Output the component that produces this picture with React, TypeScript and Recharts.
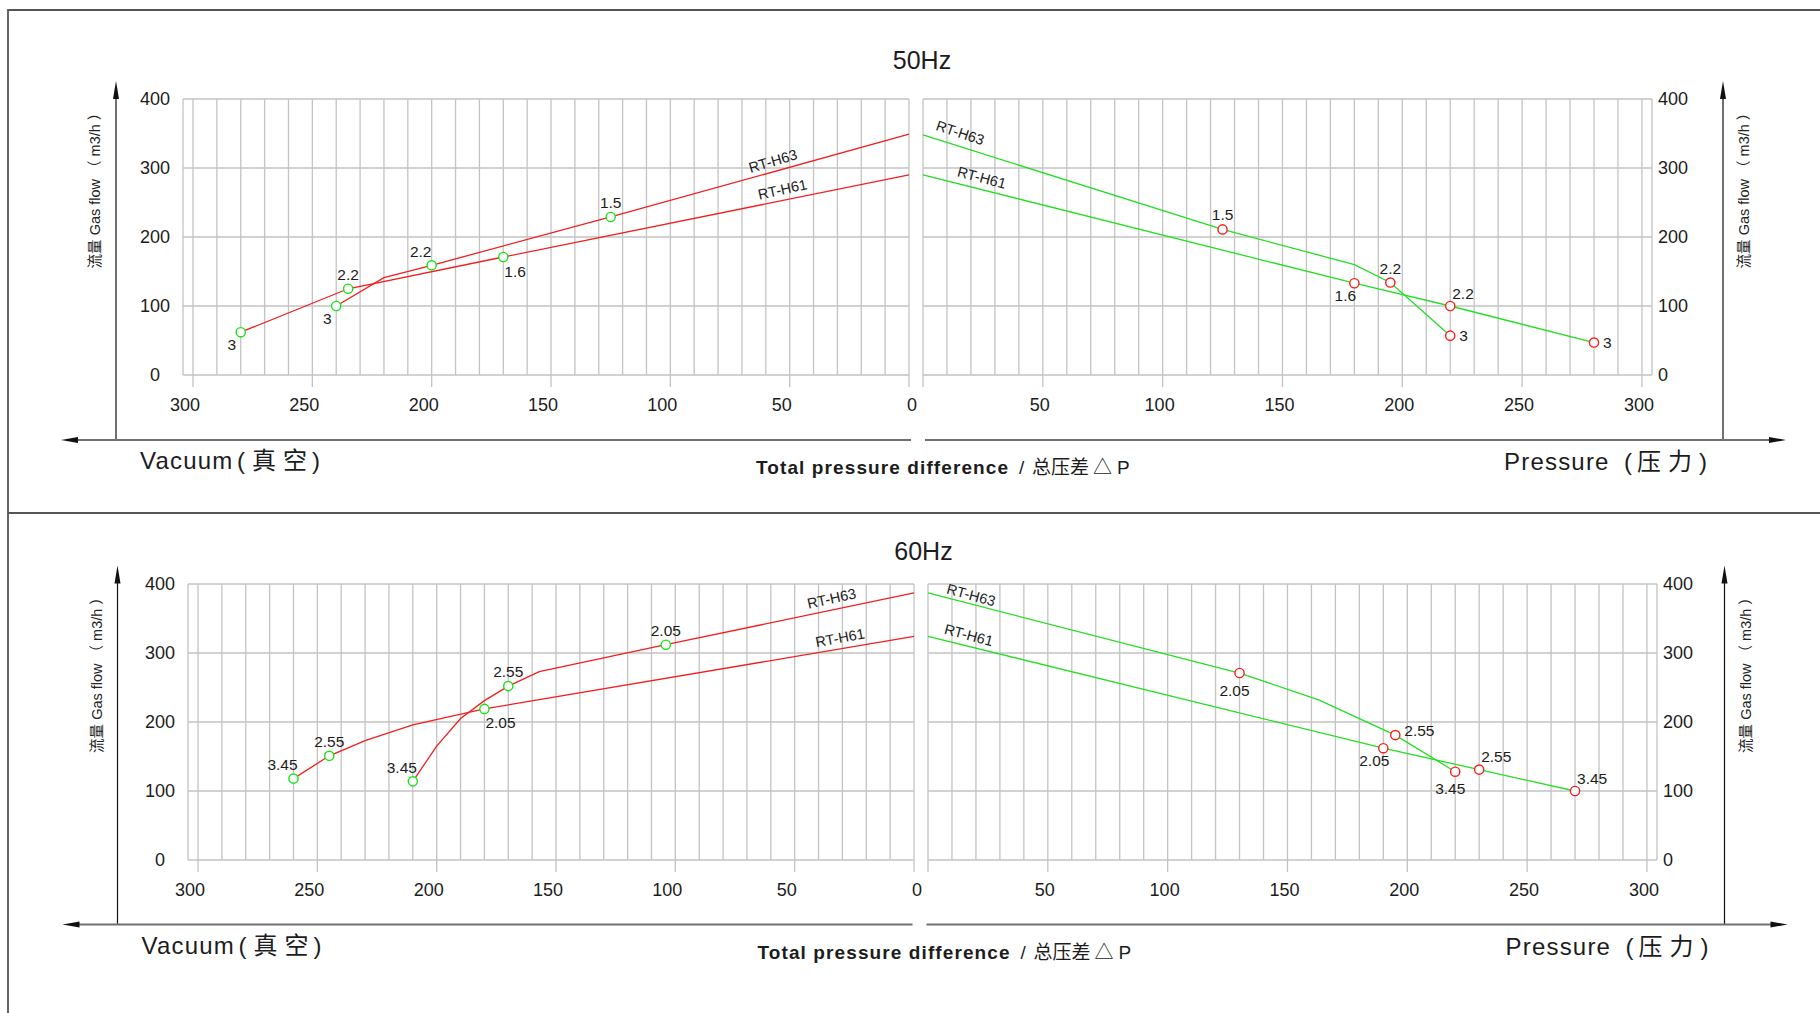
import React from "react";
import { LineChart, Line, XAxis, YAxis, CartesianGrid, ReferenceDot } from "recharts";

const FONT = "'Liberation Sans', Arial, 'Noto Sans CJK SC', sans-serif";
const RED = "#f41e1e";
const GREEN = "#22e022";
const RED_DOT = "#ff1a1a";
const GREEN_DOT = "#14e614";
const GRID = "#c3c3c3";
const INK = "#1c1c1c";

const X_TICKS = [
  0, 10, 20, 30, 40, 50, 60, 70, 80, 90, 100, 110, 120, 130, 140, 150, 160, 170, 180, 190, 200,
  210, 220, 230, 240, 250, 260, 270, 280, 290, 300,
];
const Y_TICKS = [0, 100, 200, 300, 400];
const MODELS = ["RT-H63", "RT-H61"];

// 50Hz, vacuum side (x = pressure difference, y = gas flow m3/h, tag = motor kW)
const VAC50_H63_X = [240, 220, 200, 125, 0];
const VAC50_H63_Y = [100, 141, 159, 229, 349];
const VAC50_H63_TAG = ["3", "", "2.2", "1.5", ""];
const VAC50_H61_X = [280, 235, 170, 0];
const VAC50_H61_Y = [62, 125, 171, 290];
const VAC50_H61_TAG = ["3", "2.2", "1.6", ""];

// 50Hz, pressure side
const PRE50_H63_X = [0, 125, 180, 195, 220];
const PRE50_H63_Y = [348, 211, 160, 134, 57];
const PRE50_H63_TAG = ["", "1.5", "", "2.2", "3"];
const PRE50_H61_X = [0, 180, 220, 280];
const PRE50_H61_Y = [290, 133, 100, 47];
const PRE50_H61_TAG = ["", "1.6", "2.2", "3"];

// 60Hz, vacuum side
const VAC60_H63_X = [210, 200, 190, 180, 170, 157, 104, 0];
const VAC60_H63_Y = [114, 165, 205, 231, 252, 273, 312, 387];
const VAC60_H63_TAG = ["3.45", "", "", "", "2.55", "", "2.05", ""];
const VAC60_H61_X = [260, 245, 230, 210, 180, 0];
const VAC60_H61_Y = [118, 151, 173, 196, 219, 324];
const VAC60_H61_TAG = ["3.45", "2.55", "", "", "2.05", ""];

// 60Hz, pressure side
const PRE60_H63_X = [0, 130, 163, 195, 220];
const PRE60_H63_Y = [387, 271, 232, 181, 128];
const PRE60_H63_TAG = ["", "2.05", "", "2.55", "3.45"];
const PRE60_H61_X = [0, 190, 230, 270];
const PRE60_H61_Y = [324, 162, 131, 100];
const PRE60_H61_TAG = ["", "2.05", "2.55", "3.45"];

// where each point's tag sits around its marker
const VAC50_H63_SPOT = ["ssw", "", "nnw", "n", ""];
const VAC50_H61_SPOT = ["ssw", "n", "se", ""];
const PRE50_H63_SPOT = ["", "n", "", "n", "e"];
const PRE50_H61_SPOT = ["", "ssw", "ne", "e"];
const VAC60_H63_SPOT = ["nnw", "", "", "", "n", "", "n", ""];
const VAC60_H61_SPOT = ["nnw", "n", "", "", "se", ""];
const PRE60_H63_SPOT = ["", "s", "", "ene", "s"];
const PRE60_H61_SPOT = ["", "ssw", "ne", "ne"];

type Anchor = "start" | "middle" | "end";
const PLACE: Record<string, { dx: number; dy: number; anchor: Anchor }> = {
  n: { dx: 0, dy: -14.5, anchor: "middle" },
  nnw: { dx: -11, dy: -14, anchor: "middle" },
  s: { dx: -5, dy: 17, anchor: "middle" },
  ssw: { dx: -9, dy: 12.5, anchor: "middle" },
  ne: { dx: 2, dy: -13, anchor: "start" },
  se: { dx: 1, dy: 14, anchor: "start" },
  e: { dx: 9, dy: 0, anchor: "start" },
  ene: { dx: 9, dy: -5, anchor: "start" },
};

type Pt = { x: number; y: number; tag: string };
const zip = (xs: number[], ys: number[], tags: string[]): Pt[] =>
  xs.map((x, i) => ({ x, y: ys[i], tag: tags[i] }));

type NameSpot = { x: number; y: number; angle: number };

// model name labels along the curves (data units, degrees)
const NAMES_VAC50: NameSpot[] = [
  { x: 57, y: 310, angle: -16.5 },
  { x: 53, y: 269, angle: -12.5 },
];
const NAMES_PRE50: NameSpot[] = [
  { x: 15.5, y: 351, angle: 18.5 },
  { x: 24.5, y: 286, angle: 15 },
];
const NAMES_VAC60: NameSpot[] = [
  { x: 34.5, y: 379, angle: -12.5 },
  { x: 31, y: 322, angle: -10.5 },
];
const NAMES_PRE60: NameSpot[] = [
  { x: 18, y: 384, angle: 15.5 },
  { x: 17, y: 326, angle: 15 },
];

function makeDot(color: string, spots: string[]) {
  return (props: any) => {
    const { cx, cy, index, payload } = props;
    const key = `dot-${index}`;
    if (!payload || !payload.tag) return <g key={key} />;
    const p = PLACE[spots[index]] || PLACE.n;
    return (
      <g key={key}>
        <circle cx={cx} cy={cy} r={4.6} fill="#fff" stroke={color} strokeWidth={1.4} />
        <text
          x={cx + p.dx}
          y={cy + p.dy}
          textAnchor={p.anchor}
          dominantBaseline="central"
          fontSize={15.5}
          fontFamily={FONT}
          fill={INK}
        >
          {payload.tag}
        </text>
      </g>
    );
  };
}

function xTick(isLeft: boolean) {
  return (props: any) => {
    const { x, y, payload } = props;
    const v = payload.value;
    if (v % 50 !== 0) return <g />;
    const showLabel = !(!isLeft && v === 0);
    const lx = isLeft ? (v === 0 ? x + 3 : x - 8) : x - 3;
    return (
      <g>
        <line x1={x} x2={x} y1={y} y2={y + 12} stroke={GRID} strokeWidth={1.3} />
        {showLabel && (
          <text x={lx} y={y + 36} textAnchor="middle" fontSize={18} fontFamily={FONT} fill={INK}>
            {v}
          </text>
        )}
      </g>
    );
  };
}

function yTick(isLeft: boolean) {
  return (props: any) => {
    const { x, y, payload } = props;
    return (
      <text
        x={isLeft ? x - 28 : x + 6}
        y={y}
        textAnchor={isLeft ? "middle" : "start"}
        dominantBaseline="central"
        fontSize={18}
        fontFamily={FONT}
        fill={INK}
      >
        {payload.value}
      </text>
    );
  };
}

type HalfProps = {
  isLeft: boolean;
  left: number;
  top: number;
  h63: Pt[];
  h61: Pt[];
  spots63: string[];
  spots61: string[];
  names: NameSpot[];
};

function Half({ isLeft, left, top, h63, h61, spots63, spots61, names }: HalfProps) {
  const lineColor = isLeft ? RED : GREEN;
  const dotColor = isLeft ? GREEN_DOT : RED_DOT;
  const w = isLeft ? 930 : 830;
  const margin = isLeft
    ? { top: 99, right: 21, bottom: 15, left: 123 }
    : { top: 99, right: 18, bottom: 15, left: 23 };
  return (
    <div style={{ position: "absolute", left, top, width: w, height: 430 }}>
      <LineChart width={w} height={430} margin={margin}>
        <CartesianGrid stroke={GRID} strokeWidth={1.3} />
        <XAxis
          dataKey="x"
          type="number"
          domain={[0, 304.2]}
          ticks={X_TICKS}
          interval={0}
          reversed={isLeft}
          height={40}
          axisLine={false}
          tickLine={false}
          tickSize={0}
          tickMargin={0}
          tick={xTick(isLeft)}
        />
        <YAxis
          type="number"
          domain={[0, 400]}
          ticks={Y_TICKS}
          interval={0}
          orientation={isLeft ? "left" : "right"}
          width={60}
          axisLine={false}
          tickLine={false}
          tickSize={0}
          tickMargin={0}
          tick={yTick(isLeft)}
        />
        <Line
          data={h63}
          dataKey="y"
          type="linear"
          stroke={lineColor}
          strokeWidth={1.3}
          dot={makeDot(dotColor, spots63)}
          activeDot={false}
          isAnimationActive={false}
        />
        <Line
          data={h61}
          dataKey="y"
          type="linear"
          stroke={lineColor}
          strokeWidth={1.3}
          dot={makeDot(dotColor, spots61)}
          activeDot={false}
          isAnimationActive={false}
        />
        {names.map((n, i) => (
          <ReferenceDot
            key={MODELS[i]}
            x={n.x}
            y={n.y}
            r={0}
            shape={(p: any) => (
              <text
                x={p.cx}
                y={p.cy}
                transform={`rotate(${n.angle} ${p.cx} ${p.cy})`}
                textAnchor="middle"
                dominantBaseline="central"
                fontSize={14.5}
                fontFamily={FONT}
                fill={INK}
              >
                {MODELS[i]}
              </text>
            )}
          />
        ))}
      </LineChart>
    </div>
  );
}

function Decor({ ox, oy, title, titleY }: { ox: number; oy: number; title: string; titleY: number }) {
  const yLabel = "流量 Gas flow （ m3/h ）";
  const axisY = 440 + oy;
  const up = (x: number) => `${x},${81 + oy} ${x - 3},${99 + oy} ${x + 3},${99 + oy}`;
  return (
    <g fontFamily={FONT} fill={INK}>
      <text x={922 + ox} y={titleY} textAnchor="middle" fontSize={25}>
        {title}
      </text>
      {[116 + ox, 1723 + ox].map((x) => (
        <g key={x}>
          <line x1={x} x2={x} y1={97 + oy} y2={axisY} stroke="#111" strokeWidth={1.2} />
          <polygon points={up(x)} fill="#111" />
        </g>
      ))}
      <line x1={76 + ox} x2={911 + ox} y1={axisY} y2={axisY} stroke="#707070" strokeWidth={2} />
      <line x1={925 + ox} x2={1770 + ox} y1={axisY} y2={axisY} stroke="#707070" strokeWidth={2} />
      <polygon points={`${61 + ox},${axisY} ${78 + ox},${axisY - 3} ${78 + ox},${axisY + 3}`} fill="#111" />
      <polygon
        points={`${1786 + ox},${axisY} ${1769 + ox},${axisY - 3} ${1769 + ox},${axisY + 3}`}
        fill="#111"
      />
      {[
        [95 + ox, 187 + oy],
        [1744 + ox, 187 + oy],
      ].map(([x, y]) => (
        <text
          key={x}
          x={x}
          y={y}
          transform={`rotate(-90 ${x} ${y})`}
          textAnchor="middle"
          dominantBaseline="central"
          fontSize={14.5}
          fill="#222"
        >
          {yLabel}
        </text>
      ))}
      <text y={469 + oy} fontSize={24}>
        <tspan x={140 + ox} letterSpacing={1.2}>
          Vacuum
        </tspan>
        <tspan x={237 + ox}>(</tspan>
        <tspan x={252 + ox}>真</tspan>
        <tspan x={283 + ox}>空</tspan>
        <tspan x={312 + ox}>)</tspan>
      </text>
      <text y={470 + oy} fontSize={24}>
        <tspan x={1504 + ox} letterSpacing={1.2}>
          Pressure
        </tspan>
        <tspan x={1624 + ox}>(</tspan>
        <tspan x={1637 + ox}>压</tspan>
        <tspan x={1668 + ox}>力</tspan>
        <tspan x={1699 + ox}>)</tspan>
      </text>
      <text y={474 + oy} fontSize={19}>
        <tspan x={756 + ox} fontWeight="bold" letterSpacing={1.1}>
          Total pressure difference
        </tspan>
        <tspan x={1019 + ox}>/</tspan>
        <tspan x={1032 + ox}>总压差</tspan>
        <tspan x={1093 + ox}>△</tspan>
        <tspan x={1117 + ox}>P</tspan>
      </text>
    </g>
  );
}

export default function App() {
  return (
    <div
      style={{
        position: "absolute",
        left: 0,
        top: 0,
        width: 1820,
        height: 1013,
        background: "#fff",
        overflow: "hidden",
        fontFamily: FONT,
      }}
    >
      <svg width={1820} height={1013} style={{ position: "absolute", left: 0, top: 0 }}>
        <path d="M 8 1013 V 10 H 1820" fill="none" stroke="#555" strokeWidth={1.8} />
        <line x1={8} x2={1820} y1={513} y2={513} stroke="#555" strokeWidth={1.8} />
        <Decor ox={0} oy={0} title="50Hz" titleY={69} />
        <Decor ox={1.5} oy={484.5} title="60Hz" titleY={560} />
      </svg>

      <Half
        isLeft
        left={0}
        top={0}
        h63={zip(VAC50_H63_X, VAC50_H63_Y, VAC50_H63_TAG)}
        h61={zip(VAC50_H61_X, VAC50_H61_Y, VAC50_H61_TAG)}
        spots63={VAC50_H63_SPOT}
        spots61={VAC50_H61_SPOT}
        names={NAMES_VAC50}
      />
      <Half
        isLeft={false}
        left={900}
        top={0}
        h63={zip(PRE50_H63_X, PRE50_H63_Y, PRE50_H63_TAG)}
        h61={zip(PRE50_H61_X, PRE50_H61_Y, PRE50_H61_TAG)}
        spots63={PRE50_H63_SPOT}
        spots61={PRE50_H61_SPOT}
        names={NAMES_PRE50}
      />
      <Half
        isLeft
        left={5}
        top={485}
        h63={zip(VAC60_H63_X, VAC60_H63_Y, VAC60_H63_TAG)}
        h61={zip(VAC60_H61_X, VAC60_H61_Y, VAC60_H61_TAG)}
        spots63={VAC60_H63_SPOT}
        spots61={VAC60_H61_SPOT}
        names={NAMES_VAC60}
      />
      <Half
        isLeft={false}
        left={905}
        top={485}
        h63={zip(PRE60_H63_X, PRE60_H63_Y, PRE60_H63_TAG)}
        h61={zip(PRE60_H61_X, PRE60_H61_Y, PRE60_H61_TAG)}
        spots63={PRE60_H63_SPOT}
        spots61={PRE60_H61_SPOT}
        names={NAMES_PRE60}
      />
    </div>
  );
}
